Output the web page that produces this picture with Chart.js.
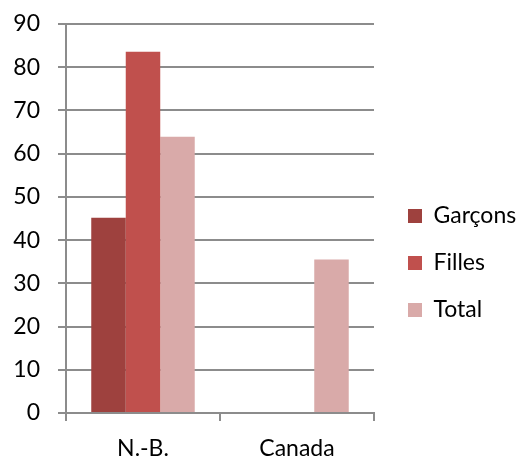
<!DOCTYPE html>
<html>
<head>
<meta charset="utf-8">
<script src="https://cdn.jsdelivr.net/npm/chart.js@4/dist/chart.umd.min.js"></script>
<style>
  html, body { margin: 0; padding: 0; background: #ffffff; }
  #wrap { width: 520px; height: 459px; position: relative; }
</style>
</head>
<body>
<div id="wrap"><canvas id="chart"></canvas></div>
<script>
// Catégories et séries
const categories = ['N.-B.', 'Canada'];
const garcons = [45.2, null];
const filles = [83.6, null];
const total = [63.9, 35.5];
const seriesNames = ['Garçons', 'Filles', 'Total'];
const seriesColors = ['#9E413E', '#C0504D', '#D9AAA9'];
const yTicks = [0, 10, 20, 30, 40, 50, 60, 70, 80, 90];

const FONT = 'Lato, "Open Sans", sans-serif';
const FONT_SIZE = 23;
const AXIS_GREY = '#8c8c8c';

function drawChart() {
  const seriesValues = [garcons, filles, total];
  const datasets = seriesNames.map((name, i) => ({
    label: name,
    data: seriesValues[i],
    yAxisID: 'y',
    backgroundColor: seriesColors[i],
    borderWidth: 0,
    categoryPercentage: 0.672,
    barPercentage: 1.0
  }));

  new Chart(document.getElementById('chart'), {
    type: 'bar',
    data: { labels: categories, datasets },
    options: {
      responsive: true,
      maintainAspectRatio: false,
      animation: false,
      layout: { padding: { top: 24, right: 0, bottom: 0, left: 0 } },
      plugins: {
        tooltip: { enabled: false },
        legend: {
          position: 'right',
          align: 'center',
          maxWidth: 136,
          title: { display: true, text: '', font: { size: 1, lineHeight: 1 }, padding: { top: 42, bottom: 0 } },
          labels: {
            boxWidth: 14,
            boxHeight: 14,
            padding: 24,
            color: '#000000',
            font: { family: FONT, size: FONT_SIZE }
          }
        }
      },
      scales: {
        x: {
          offset: true,
          afterFit: (s) => { s.height = 46; },
          grid: {
            offset: true,
            drawOnChartArea: false,
            drawTicks: true,
            tickLength: 8,
            color: AXIS_GREY,
            lineWidth: 2
          },
          border: { display: true, color: AXIS_GREY, width: 2 },
          ticks: {
            color: '#000000',
            padding: 14,
            font: { family: FONT, size: FONT_SIZE }
          }
        },
        y: {
          min: 0,
          max: 90,
          afterFit: (s) => { s.width = 66; s.paddingTop = 0; s.paddingBottom = 0; },
          afterBuildTicks: (s) => { s.ticks = yTicks.map(v => ({ value: v })); },
          grid: {
            drawTicks: true,
            tickLength: 8,
            color: AXIS_GREY,
            lineWidth: 2
          },
          border: { display: true, color: AXIS_GREY, width: 2 },
          ticks: {
            color: '#000000',
            padding: 18,
            font: { family: FONT, size: FONT_SIZE }
          }
        },
        // empty right-hand strip between plot and legend
        gap: {
          type: 'linear',
          position: 'right',
          afterFit: (s) => { s.width = 10; s.paddingTop = 0; s.paddingBottom = 0; },
          grid: { display: false },
          border: { display: false },
          ticks: { display: false }
        }
      }
    }
  });
}

if (document.fonts && document.fonts.load) {
  document.fonts.load(FONT_SIZE + 'px Lato').then(drawChart, drawChart);
} else {
  drawChart();
}
</script>
</body>
</html>
